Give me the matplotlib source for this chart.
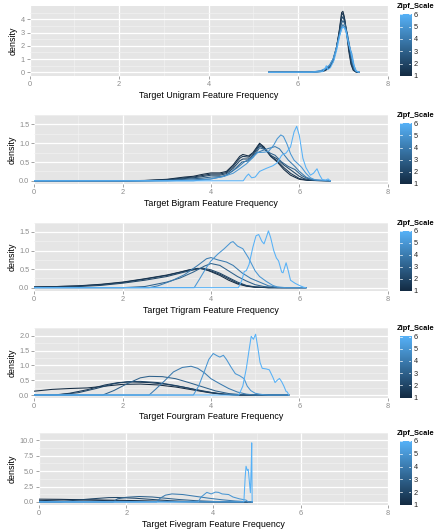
import numpy as np
import matplotlib
matplotlib.use("Agg")
import matplotlib.pyplot as plt
from matplotlib.colors import LinearSegmentedColormap

plt.rcParams["font.family"] = ["Liberation Sans", "DejaVu Sans"]

# zipf scale of each density curve (same for every panel)
zipf = [1, 1.5, 2, 3, 4, 5, 6]

# ---- unigram curves: (x, density) knots ----
uni = [
    [(5.34, 0), (6.3, 0.01), (6.5, 0.05), (6.6, 0.12), (6.7, 0.35), (6.78, 0.8), (6.85, 1.7), (6.92, 3.2),
     (6.97, 4.5), (7.0, 4.6), (7.03, 4.2), (7.08, 3.0), (7.13, 1.6), (7.18, 0.6), (7.23, 0.15), (7.3, 0.01), (7.36, 0)],
    [(5.34, 0), (6.3, 0.01), (6.5, 0.06), (6.6, 0.14), (6.7, 0.38), (6.78, 0.85), (6.85, 1.75), (6.92, 3.1),
     (6.97, 4.3), (7.0, 4.45), (7.04, 4.0), (7.09, 2.9), (7.14, 1.6), (7.19, 0.6), (7.24, 0.15), (7.3, 0.01), (7.36, 0)],
    [(5.34, 0), (6.3, 0.01), (6.5, 0.07), (6.6, 0.16), (6.7, 0.4), (6.78, 0.9), (6.85, 1.8), (6.92, 3.0),
     (6.97, 4.0), (7.0, 4.2), (7.04, 3.8), (7.09, 2.9), (7.14, 1.7), (7.19, 0.7), (7.24, 0.2), (7.3, 0.02), (7.36, 0)],
    [(5.34, 0), (6.3, 0.01), (6.5, 0.08), (6.6, 0.2), (6.7, 0.45), (6.78, 0.95), (6.85, 1.8), (6.92, 2.9),
     (6.97, 3.7), (7.0, 3.9), (7.05, 3.6), (7.1, 2.9), (7.15, 1.9), (7.2, 0.8), (7.25, 0.2), (7.3, 0.03), (7.36, 0)],
    [(5.34, 0), (6.3, 0.02), (6.5, 0.1), (6.6, 0.22), (6.7, 0.5), (6.78, 1.0), (6.85, 1.8), (6.92, 2.8),
     (6.97, 3.4), (7.0, 3.6), (7.05, 3.4), (7.1, 2.8), (7.15, 2.0), (7.2, 1.0), (7.25, 0.3), (7.3, 0.05), (7.36, 0)],
    [(5.34, 0), (6.3, 0.02), (6.5, 0.12), (6.6, 0.28), (6.7, 0.55), (6.78, 1.0), (6.85, 1.8), (6.92, 2.7),
     (6.97, 3.3), (7.0, 3.45), (7.05, 3.3), (7.1, 2.6), (7.15, 1.9), (7.2, 1.4), (7.25, 0.5), (7.3, 0.08), (7.36, 0)],
    [(5.34, 0), (6.4, 0.01), (6.55, 0.05), (6.6, 0.3), (6.63, 0.5), (6.66, 0.2), (6.72, 0.35), (6.8, 0.9),
     (6.87, 1.8), (6.93, 2.8), (6.98, 3.35), (7.02, 3.4), (7.07, 3.1), (7.12, 2.2), (7.18, 1.5), (7.23, 0.7),
     (7.28, 0.15), (7.36, 0)],
]

# ---- bigram curves ----
bi = [
    [(0, 0), (2.0, 0.0), (2.5, 0.01), (3.0, 0.04), (3.4, 0.1), (3.6, 0.12), (3.8, 0.17), (4.0, 0.21), (4.2, 0.21),
     (4.35, 0.25), (4.5, 0.42), (4.65, 0.65), (4.72, 0.7), (4.85, 0.66), (4.95, 0.75), (5.1, 1.0), (5.2, 0.9),
     (5.35, 0.65), (5.5, 0.5), (5.65, 0.3), (5.8, 0.15), (6.0, 0.04), (6.2, 0.01), (6.7, 0)],
    [(0, 0), (2.2, 0.0), (2.6, 0.01), (3.0, 0.03), (3.4, 0.08), (3.6, 0.1), (3.8, 0.14), (4.0, 0.18), (4.2, 0.18),
     (4.35, 0.22), (4.5, 0.38), (4.65, 0.6), (4.72, 0.65), (4.85, 0.63), (4.95, 0.72), (5.1, 0.97), (5.2, 0.88),
     (5.35, 0.66), (5.5, 0.53), (5.65, 0.35), (5.8, 0.2), (6.0, 0.06), (6.2, 0.01), (6.7, 0)],
    [(0, 0), (2.4, 0.0), (2.8, 0.01), (3.2, 0.04), (3.6, 0.08), (3.8, 0.11), (4.0, 0.15), (4.2, 0.15),
     (4.35, 0.19), (4.5, 0.33), (4.65, 0.53), (4.72, 0.58), (4.85, 0.58), (4.95, 0.68), (5.1, 0.93), (5.2, 0.86),
     (5.35, 0.68), (5.5, 0.58), (5.65, 0.42), (5.85, 0.25), (6.0, 0.12), (6.1, 0.06), (6.3, 0.01), (6.7, 0)],
    [(0, 0), (2.6, 0.0), (3.0, 0.01), (3.4, 0.04), (3.8, 0.07), (4.0, 0.1), (4.2, 0.11), (4.35, 0.15),
     (4.5, 0.27), (4.7, 0.5), (4.85, 0.53), (4.95, 0.63), (5.1, 0.88), (5.2, 0.84), (5.35, 0.73), (5.45, 0.68),
     (5.6, 0.5), (5.75, 0.38), (5.9, 0.3), (6.05, 0.14), (6.15, 0.08), (6.3, 0.02), (6.7, 0)],
    [(0, 0), (3.0, 0.0), (3.5, 0.02), (4.0, 0.05), (4.3, 0.12), (4.6, 0.35), (4.75, 0.5), (4.9, 0.6), (5.05, 0.75),
     (5.15, 0.8), (5.3, 0.86), (5.45, 0.91), (5.55, 0.85), (5.65, 0.7), (5.75, 0.55), (5.9, 0.38), (6.0, 0.25),
     (6.15, 0.1), (6.25, 0.05), (6.4, 0.01), (6.7, 0)],
    [(0, 0), (3.6, 0.0), (4.0, 0.05), (4.3, 0.12), (4.5, 0.2), (4.65, 0.32), (4.8, 0.45), (4.95, 0.62), (5.05, 0.75),
     (5.2, 0.76), (5.3, 0.78), (5.42, 0.95), (5.5, 1.12), (5.58, 1.22), (5.64, 1.18), (5.72, 0.98), (5.8, 0.72),
     (5.88, 0.55), (5.97, 0.45), (6.05, 0.36), (6.15, 0.2), (6.25, 0.08), (6.35, 0.03), (6.7, 0)],
    [(0, 0), (4.73, 0), (4.8, 0.12), (4.85, 0.18), (4.92, 0.08), (5.0, 0.1), (5.1, 0.25), (5.25, 0.33),
     (5.4, 0.4), (5.5, 0.48), (5.6, 0.68), (5.7, 0.74), (5.8, 0.9), (5.88, 1.3), (5.94, 1.45), (6.0, 1.2),
     (6.08, 0.6), (6.15, 0.35), (6.25, 0.15), (6.32, 0.2), (6.4, 0.32), (6.46, 0.15), (6.52, 0.03), (6.6, 0.02),
     (6.65, 0.05), (6.7, 0.0)],
]

# ---- trigram curves ----
tri = [
    [(0, 0.02), (0.5, 0.03), (1.0, 0.05), (1.5, 0.09), (2.0, 0.15), (2.5, 0.24), (3.0, 0.34), (3.3, 0.42),
     (3.5, 0.48), (3.7, 0.52), (3.85, 0.5), (4.0, 0.43), (4.2, 0.33), (4.4, 0.2), (4.6, 0.1), (4.8, 0.04),
     (5.0, 0.01), (5.3, 0), (6.15, 0)],
    [(0, 0.015), (1.0, 0.045), (1.5, 0.08), (2.0, 0.14), (2.5, 0.23), (3.0, 0.33), (3.5, 0.47), (3.75, 0.52),
     (4.0, 0.45), (4.2, 0.36), (4.4, 0.24), (4.6, 0.12), (4.8, 0.05), (5.0, 0.015), (5.3, 0), (6.15, 0)],
    [(0, 0.01), (1.0, 0.03), (1.5, 0.06), (2.0, 0.12), (2.5, 0.2), (3.0, 0.3), (3.5, 0.45), (3.8, 0.53),
     (4.0, 0.48), (4.2, 0.39), (4.4, 0.27), (4.6, 0.15), (4.8, 0.06), (5.0, 0.02), (5.3, 0), (6.15, 0)],
    [(0, 0), (2.0, 0), (2.5, 0.03), (3.0, 0.15), (3.3, 0.26), (3.6, 0.42), (3.85, 0.58), (4.0, 0.65), (4.2, 0.6),
     (4.4, 0.45), (4.6, 0.3), (4.8, 0.18), (5.0, 0.08), (5.2, 0.03), (5.5, 0), (6.15, 0)],
    [(0, 0), (2.6, 0), (2.8, 0.05), (3.1, 0.18), (3.4, 0.35), (3.7, 0.6), (3.9, 0.78), (4.0, 0.81), (4.15, 0.75),
     (4.35, 0.69), (4.5, 0.6), (4.7, 0.4), (4.9, 0.25), (5.1, 0.15), (5.3, 0.05), (5.5, 0.01), (5.6, 0), (6.15, 0)],
    [(0, 0), (3.62, 0), (3.75, 0.25), (3.9, 0.55), (4.0, 0.72), (4.15, 0.9), (4.3, 1.05), (4.45, 1.22), (4.5, 1.24),
     (4.6, 1.12), (4.72, 1.05), (4.85, 0.8), (5.0, 0.45), (5.1, 0.3), (5.25, 0.17), (5.4, 0.06), (5.5, 0.02),
     (5.7, 0), (6.15, 0)],
    [(0, 0), (4.62, 0), (4.7, 0.2), (4.75, 0.43), (4.8, 0.46), (4.86, 0.62), (4.95, 1.1), (5.02, 1.4), (5.08, 1.43),
     (5.15, 1.25), (5.2, 1.18), (5.25, 1.35), (5.3, 1.53), (5.35, 1.35), (5.42, 1.0), (5.48, 0.8), (5.53, 0.72),
     (5.6, 0.42), (5.63, 0.4), (5.7, 0.67), (5.75, 0.45), (5.8, 0.2), (5.9, 0.12), (6.0, 0.06), (6.1, 0.01),
     (6.15, 0)],
]

# ---- fourgram curves ----
four = [
    [(0, 0.13), (0.4, 0.19), (0.8, 0.22), (1.2, 0.24), (1.6, 0.3), (2.0, 0.36), (2.4, 0.37), (2.8, 0.34),
     (3.2, 0.27), (3.6, 0.17), (4.0, 0.07), (4.3, 0.02), (4.6, 0), (5.76, 0)],
    [(0, 0), (0.45, 0), (0.8, 0.06), (1.2, 0.18), (1.6, 0.34), (1.9, 0.42), (2.2, 0.44), (2.6, 0.42), (3.0, 0.36),
     (3.4, 0.26), (3.8, 0.13), (4.2, 0.04), (4.5, 0.01), (4.7, 0), (5.76, 0)],
    [(0, 0), (0.5, 0), (1.0, 0.08), (1.4, 0.22), (1.8, 0.38), (2.1, 0.45), (2.4, 0.46), (2.8, 0.42), (3.2, 0.32),
     (3.6, 0.2), (4.0, 0.09), (4.3, 0.03), (4.6, 0), (5.76, 0)],
    [(0, 0), (1.55, 0), (1.8, 0.15), (2.1, 0.38), (2.4, 0.58), (2.6, 0.63), (2.9, 0.62), (3.2, 0.55), (3.5, 0.42),
     (3.8, 0.28), (4.1, 0.14), (4.4, 0.05), (4.7, 0.01), (4.9, 0), (5.76, 0)],
    [(0, 0), (2.6, 0), (2.75, 0.2), (2.95, 0.48), (3.15, 0.78), (3.35, 0.93), (3.55, 0.97), (3.7, 0.9),
     (3.85, 0.75), (4.0, 0.55), (4.2, 0.38), (4.4, 0.22), (4.6, 0.1), (4.8, 0.03), (5.0, 0), (5.76, 0)],
    [(0, 0), (3.6, 0), (3.72, 0.3), (3.85, 0.8), (3.95, 1.2), (4.05, 1.4), (4.13, 1.33), (4.2, 1.28), (4.28, 1.34),
     (4.35, 1.2), (4.45, 0.95), (4.55, 0.72), (4.65, 0.65), (4.75, 0.55), (4.82, 0.3), (4.9, 0.15), (5.0, 0.06),
     (5.1, 0.03), (5.2, 0.01), (5.3, 0), (5.76, 0)],
    [(0, 0), (4.63, 0), (4.72, 0.3), (4.8, 0.9), (4.86, 1.5), (4.91, 1.98), (4.96, 1.88), (5.01, 2.05),
     (5.06, 1.6), (5.11, 1.1), (5.16, 0.9), (5.25, 0.88), (5.32, 0.85), (5.4, 0.6), (5.45, 0.42), (5.5, 0.5),
     (5.55, 0.56), (5.6, 0.45), (5.65, 0.3), (5.7, 0.12), (5.73, 0.1), (5.76, 0)],
]

# ---- fivegram curves ----
five = [
    [(0, 0.45), (0.5, 0.42), (1.0, 0.35), (1.5, 0.3), (2.0, 0.25), (2.5, 0.15), (3.0, 0.08), (3.5, 0.03),
     (4.0, 0), (4.89, 0)],
    [(0, 0.2), (0.5, 0.3), (0.8, 0.33), (1.2, 0.3), (1.6, 0.2), (2.0, 0.15), (2.5, 0.1), (3.0, 0.05),
     (3.5, 0.01), (4.89, 0)],
    [(0, 0), (0.5, 0), (0.8, 0.25), (1.2, 0.5), (1.6, 0.7), (1.8, 0.72), (2.2, 0.6), (2.6, 0.4), (3.0, 0.2),
     (3.4, 0.08), (3.8, 0.01), (4.89, 0)],
    [(0, 0), (1.7, 0), (1.8, 0.5), (2.0, 0.75), (2.3, 0.88), (2.6, 0.8), (2.9, 0.6), (3.2, 0.4), (3.6, 0.2),
     (4.0, 0.08), (4.3, 0), (4.89, 0)],
    [(0, 0), (2.7, 0), (2.78, 0.6), (2.9, 1.1), (3.05, 1.3), (3.3, 1.2), (3.6, 0.9), (3.9, 0.6), (4.2, 0.35),
     (4.5, 0.15), (4.75, 0.05), (4.89, 0)],
    [(0, 0), (3.65, 0), (3.72, 0.8), (3.85, 1.55), (3.95, 1.3), (4.05, 1.6), (4.12, 1.55), (4.2, 1.3),
     (4.35, 1.2), (4.45, 0.8), (4.6, 0.5), (4.75, 0.3), (4.8, 0), (4.89, 0)],
    [(0, 0), (4.7, 0), (4.73, 4.0), (4.75, 5.8), (4.78, 5.1), (4.8, 5.3), (4.83, 3.0), (4.85, 1.5), (4.87, 6.0),
     (4.88, 9.6), (4.89, 0)],
]

xlabels = ["Target Unigram Feature Frequency", "Target Bigram Feature Frequency",
           "Target Trigram Feature Frequency", "Target Fourgram Feature Frequency",
           "Target Fivegram Feature Frequency"]
yticks = [[0, 1, 2, 3, 4], [0, 0.5, 1.0, 1.5], [0, 0.5, 1.0, 1.5], [0, 0.5, 1.0, 1.5, 2.0], [0, 2.5, 5.0, 7.5, 10.0]]
ytick_fmt = ["%d", "%.1f", "%.1f", "%.1f", "%.1f"]
ylims = [(-0.28, 5.0), (-0.085, 1.52), (-0.09, 1.57), (-0.09, 2.16), (-0.5, 10.5)]
all_curves = [uni, bi, tri, four, five]

# panel boxes in pixels: left, right, top, bottom
boxes = [(29.5, 387.7, 6, 76), (34.3, 387.7, 115, 184), (34.3, 387.7, 222.7, 291),
         (34.3, 387.7, 328.3, 397.7), (39, 387.7, 432.7, 505)]

W, H = 435, 531
fig = plt.figure(figsize=(W / 100, H / 100), dpi=100)
cmap = LinearSegmentedColormap.from_list("gg", ["#132B43", "#56B1F7"])


def px_axes(l, r, t, b):
    return fig.add_axes([l / W, 1 - b / H, (r - l) / W, (b - t) / H])


for i in range(5):
    l, r, t, b = boxes[i]
    ax = px_axes(l, r, t, b)
    ax.set_facecolor("#E5E5E5")
    for s in ax.spines.values():
        s.set_visible(False)
    ax.set_xlim(0, 8)
    ax.set_ylim(*ylims[i])
    ax.set_xticks([0, 2, 4, 6, 8])
    ax.set_xticks([1, 3, 5, 7], minor=True)
    yt = yticks[i]
    ax.set_yticks(yt)
    step = yt[1] - yt[0]
    ax.set_yticks([v + step / 2 for v in yt], minor=True)
    ax.set_yticklabels([ytick_fmt[i] % v for v in yt])
    ax.grid(which="major", color="white", lw=0.9)
    ax.grid(which="minor", color="#F2F2F2", lw=0.45)
    ax.set_axisbelow(True)
    ax.tick_params(which="major", length=2, width=0.5, color="#7F7F7F", labelcolor="#8C8C8C",
                   labelsize=5.3, pad=1.5)
    ax.tick_params(which="minor", length=0)
    ax.set_xlabel(xlabels[i], fontsize=6.4, labelpad=2)
    ax.set_ylabel("density", fontsize=6.4, labelpad=2)

    for z, pts in zip(zipf, all_curves[i]):
        xs = [p[0] for p in pts]
        ys = [p[1] for p in pts]
        ax.plot(xs, ys, color=cmap((z - 1) / 5), lw=0.75)

    # colour bar legend
    cax = px_axes(400, 411.5, t + 8, b + 0.5)
    grad = np.linspace(1, 6, 100).reshape(-1, 1)
    cax.imshow(grad, cmap=cmap, aspect="auto", origin="lower", extent=[0, 1, 1, 6])
    for v in range(1, 7):
        cax.plot([0, 0.2], [v, v], color="white", lw=0.5)
        cax.plot([0.8, 1], [v, v], color="white", lw=0.5)
    cax.set_xlim(0, 1)
    cax.set_ylim(0.95, 6.02)
    for s in cax.spines.values():
        s.set_visible(False)
    cax.set_xticks([])
    cax.yaxis.tick_right()
    cax.set_yticks(range(1, 7))
    cax.tick_params(length=0, labelsize=5.3, pad=1.5, labelcolor="#222222")
    fig.text(397 / W, 1 - (t + 0.5) / H, "Zipf_Scale", fontsize=5.4, fontweight="bold", va="center", ha="left")

fig.savefig("out.png", dpi=100)
